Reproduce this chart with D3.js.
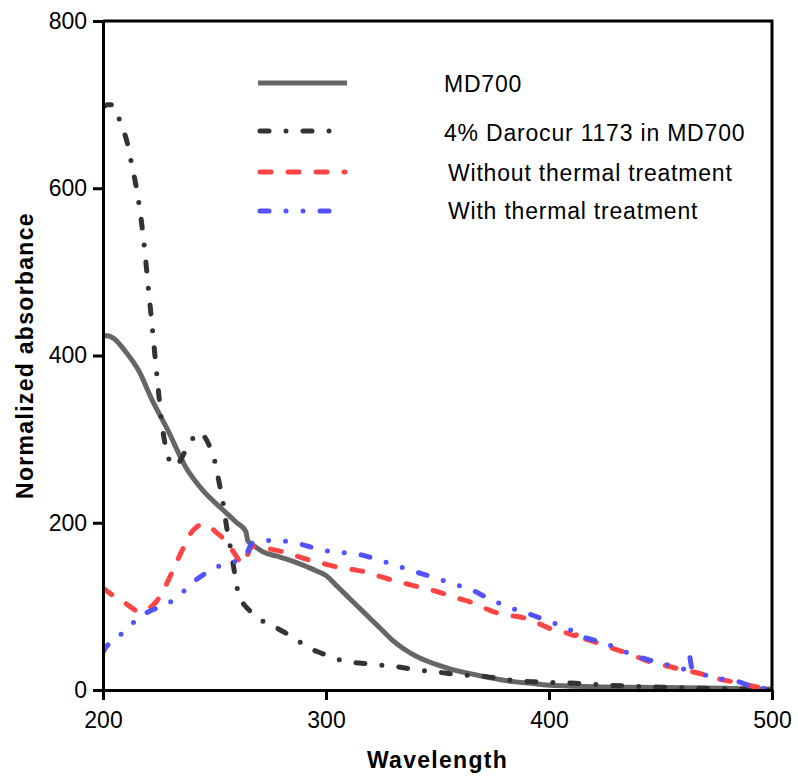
<!DOCTYPE html>
<html>
<head>
<meta charset="utf-8">
<script src="https://cdn.jsdelivr.net/npm/d3@7"></script>
<style>
  body { margin: 0; background: #fff; }
  svg { display: block; font-family: "Liberation Sans", Arial, sans-serif; }
</style>
</head>
<body>
<div id="chart"></div>
<script>
// MD700 (solid grey)
const md700 = [
  [200, 424], [203, 423], [205, 420], [210, 405], [216, 382], [222, 347], [229, 311],
  [237, 267], [245, 238], [254, 215], [260, 200], [264, 190], [265, 178], [268, 172],
  [272, 165], [278, 160], [284, 155], [290, 149], [296, 142], [300, 137], [305, 124],
  [310, 111], [315, 98], [320, 85], [325, 72], [330, 59], [335, 49], [340, 41],
  [345, 35], [350, 30], [356, 25], [362, 21], [369, 17], [377, 13], [384, 10],
  [392, 8], [399, 6], [420, 4], [450, 3], [480, 2], [500, 1]
];

// 4% Darocur 1173 in MD700 (dark dash-dot)
const darocur = [
  [200, 697], [202, 700], [204, 700], [206, 690], [208, 678], [211, 653], [213, 627],
  [215, 600], [217, 565], [219, 518], [220, 490], [221, 463], [222, 436], [223, 408],
  [224, 381], [225, 354], [226, 327], [227.5, 299], [229, 281], [231, 269], [233, 269],
  [235, 276], [238, 292], [241, 303], [243, 308], [246, 301], [248, 290], [250, 275],
  [252, 249], [254, 221], [255.5, 194], [257.5, 165], [259, 140], [261, 112], [263, 103],
  [265, 97], [269, 88], [273, 80], [278, 74], [282, 68], [287, 60], [291, 52], [296, 46],
  [300, 42], [305, 37], [310, 34], [320, 31], [331, 28], [341, 24], [351, 21], [361, 18],
  [372, 16], [382, 12], [392, 10], [402, 9], [412, 8], [425, 6], [441, 4], [455, 3],
  [468, 2], [485, 1], [500, 0]
];

// Without thermal treatment (red dashed)
const withoutThermal = [
  [200, 122], [204, 114], [208, 108], [212, 100], [216, 94], [220, 97], [224, 106],
  [228, 124], [232, 147], [236, 170], [239, 186], [242, 195], [245, 198], [248, 195],
  [251, 188], [254, 181], [258, 167], [263, 151], [264.5, 160], [267, 172], [274, 169],
  [281, 165], [287, 160], [293, 155], [299, 151], [305, 147], [312, 144], [318, 141],
  [324, 136], [330, 131], [336, 127], [342, 123], [348, 119], [354, 114], [360, 109],
  [366, 104], [371, 98], [377, 92], [383, 89], [389, 86], [395, 80], [400, 74],
  [406, 70], [412, 65], [413, 71], [414, 64], [420, 58], [426, 52], [433, 46], [439, 40],
  [445, 34], [451, 30], [457, 26], [464, 22], [470, 18], [475, 14], [482, 10],
  [489, 6], [494, 3], [500, 0]
];

// With thermal treatment (blue dash-dot-dot)
const withThermal = [
  [200, 45], [201, 50], [205, 59], [211, 74], [217, 88], [220, 93], [226, 100],
  [233, 110], [240, 128], [244, 136], [248, 143], [255, 151], [262, 157], [264.5, 163],
  [266, 172], [268, 177], [276, 179], [286, 176], [296, 169], [303, 165], [313, 163],
  [322, 157], [329, 151], [338, 143], [348, 135], [356, 128], [365, 120], [374, 108],
  [381, 100], [390, 92], [400, 82], [408, 74], [415, 64], [425, 56], [432, 48],
  [442, 38], [452, 31], [459, 25], [462, 26], [463, 40], [464, 27], [469, 19],
  [476, 14], [485, 10], [490, 5], [498, 1], [500, 0]
];

const xTicks = [200, 300, 400, 500];
const yTicks = [0, 200, 400, 600, 800];

const seriesNames = ["MD700", "4% Darocur 1173 in MD700", "Without thermal treatment", "With thermal treatment"];

const series = [
  { name: seriesNames[0], values: md700, color: "#666666", width: 5, dash: null },
  { name: seriesNames[1], values: darocur, color: "#333333", width: 5, dash: "9,17,0,17" },
  { name: seriesNames[2], values: withoutThermal, color: "#ff4444", width: 5, dash: "11,17" },
  { name: seriesNames[3], values: withThermal, color: "#5252ff", width: 5, dash: "9,17,0,17,0,17" }
];

const W = 798, H = 778;
const margin = { left: 103, right: 772, top: 21, bottom: 690 };

const svg = d3.select("#chart")
  .append("svg")
  .attr("width", W)
  .attr("height", H);

const x = d3.scaleLinear().domain([200, 500]).range([margin.left, margin.right]);
const y = d3.scaleLinear().domain([0, 800]).range([margin.bottom, margin.top]);

svg.append("clipPath")
  .attr("id", "plot-clip")
  .append("rect")
  .attr("x", margin.left)
  .attr("y", margin.top - 3)
  .attr("width", margin.right - margin.left)
  .attr("height", margin.bottom - margin.top + 3);

const line = d3.line()
  .x(d => x(d[0]))
  .y(d => y(d[1]))
  .curve(d3.curveMonotoneX);

const plot = svg.append("g").attr("clip-path", "url(#plot-clip)");

series.forEach(s => {
  plot.append("path")
    .datum(s.values)
    .attr("fill", "none")
    .attr("stroke", s.color)
    .attr("stroke-width", s.width)
    .attr("stroke-linecap", s.dash ? "round" : "butt")
    .attr("stroke-linejoin", "round")
    .attr("stroke-dasharray", s.dash)
    .attr("d", line);
});

// frame (top + right)
svg.append("path")
  .attr("fill", "none")
  .attr("stroke", "#000")
  .attr("stroke-width", 3)
  .attr("d", `M${margin.left},${y(800)}H${margin.right}V${margin.bottom}`);

const xAxis = d3.axisBottom(x)
  .tickValues(xTicks)
  .tickSize(10)
  .tickPadding(12)
  .tickSizeOuter(0);

const yAxis = d3.axisLeft(y)
  .tickValues(yTicks)
  .tickSize(10)
  .tickPadding(6)
  .tickSizeOuter(0);

const gx = svg.append("g")
  .attr("transform", `translate(0,${margin.bottom})`)
  .call(xAxis);

const gy = svg.append("g")
  .attr("transform", `translate(${margin.left},0)`)
  .call(yAxis);

[gx, gy].forEach(g => {
  g.select(".domain").attr("stroke", "#000").attr("stroke-width", 3);
  g.selectAll(".tick line").attr("stroke", "#000").attr("stroke-width", 3);
  g.selectAll(".tick text")
    .attr("fill", "#000")
    .style("font-family", "'Liberation Sans', Arial, sans-serif")
    .style("font-size", "23px");
});

svg.append("text")
  .attr("x", (margin.left + margin.right) / 2)
  .attr("y", 768)
  .attr("text-anchor", "middle")
  .style("font-size", "23px")
  .style("font-weight", "bold")
  .style("letter-spacing", "1.3px")
  .text("Wavelength");

svg.append("text")
  .attr("transform", "rotate(-90)")
  .attr("x", -(margin.top + margin.bottom) / 2)
  .attr("y", 33)
  .attr("text-anchor", "middle")
  .style("font-size", "23px")
  .style("font-weight", "bold")
  .style("letter-spacing", "1.3px")
  .text("Normalized absorbance");

// legend
const legendY = [83, 131, 172, 211];
const legendTextY = [92, 141, 181, 219];
const legendTextX = [444, 444, 448, 448];

series.forEach((s, i) => {
  svg.append("line")
    .attr("x1", s.dash ? 260 : 258)
    .attr("x2", s.dash ? 345 : 347)
    .attr("y1", legendY[i])
    .attr("y2", legendY[i])
    .attr("stroke", s.color)
    .attr("stroke-width", s.width)
    .attr("stroke-linecap", s.dash ? "round" : "butt")
    .attr("stroke-dasharray", s.dash);

  svg.append("text")
    .attr("x", legendTextX[i])
    .attr("y", legendTextY[i])
    .style("font-size", "23px")
    .style("letter-spacing", "0.8px")
    .attr("fill", "#000")
    .text(s.name);
});
</script>
</body>
</html>
